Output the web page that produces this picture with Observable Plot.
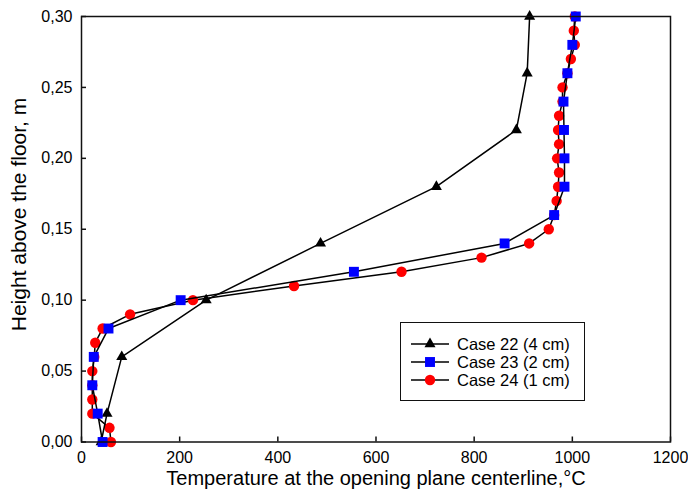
<!DOCTYPE html>
<html>
<head>
<meta charset="utf-8">
<script src="https://cdn.jsdelivr.net/npm/d3@7"></script>
<script src="https://cdn.jsdelivr.net/npm/@observablehq/plot@0.6"></script>
<style>
  html, body { margin: 0; padding: 0; background: #fff; }
  #wrap { position: relative; width: 688px; height: 498px; font-family: "Liberation Sans", Arial, sans-serif; }
  #legend { position: absolute; left: 400px; top: 322px; width: 183px; height: 77px; border: 1.5px solid #111; background: #fff; }
  .row { position: absolute; left: 0; height: 18px; display: flex; align-items: center; }
  .row svg { margin-left: 10px; }
  .row span { margin-left: 8px; font-size: 16.5px; color: #000; white-space: nowrap; }
</style>
</head>
<body>
<div id="wrap"></div>
<script>
// ---- data ----
const seriesNames = ["Case 22 (4 cm)", "Case 23 (2 cm)", "Case 24 (1 cm)"];
const seriesColors = ["#000000", "#0000ff", "#ff0000"];
const seriesSymbols = ["triangle", "square", "circle"];

const case22Height = [0.30, 0.26, 0.22, 0.18, 0.14, 0.10, 0.06, 0.02, 0.00];
const case22Temp   = [913, 908, 886, 723, 487, 254, 82, 52, 40];

const case23Height = [0.30, 0.28, 0.26, 0.24, 0.22, 0.20, 0.18, 0.16, 0.14, 0.12, 0.10, 0.08, 0.06, 0.04, 0.02, 0.00];
const case23Temp   = [1007, 1000, 990, 982, 983, 984, 984, 963, 862, 555, 202, 55, 25, 22, 33, 43];

const case24Height = [0.30, 0.29, 0.28, 0.27, 0.26, 0.25, 0.24, 0.23, 0.22, 0.21, 0.20, 0.19, 0.18, 0.17, 0.16, 0.15,
                      0.14, 0.13, 0.12, 0.11, 0.10, 0.09, 0.08, 0.07, 0.06, 0.05, 0.04, 0.03, 0.02, 0.01, 0.00];
const case24Temp   = [1005, 1003, 1005, 997, 990, 980, 980, 973, 971, 973, 969, 973, 971, 968, 963, 952,
                      912, 815, 652, 433, 227, 99, 43, 28, 26, 22, 22, 22, 22, 57, 60];

const xTicks = [0, 200, 400, 600, 800, 1000, 1200];
const yTicks = [0.00, 0.05, 0.10, 0.15, 0.20, 0.25, 0.30];
const xTitle = "Temperature at the opening plane centerline,°C";
const yTitle = "Height above the floor, m";

// ---- build ----
const mk = (h, t) => h.map((v, i) => ({h: v, t: t[i]}));
const d22 = mk(case22Height, case22Temp);
const d23 = mk(case23Height, case23Temp);
const d24 = mk(case24Height, case24Temp);
const fmtY = d => d3.format(".2f")(d).replace(".", ",");
const R = {triangle: 4.1, square: 5.6, circle: 5.2};

const chart = Plot.plot({
  width: 688, height: 498,
  marginLeft: 81, marginRight: 18, marginTop: 16, marginBottom: 56.5,
  style: {fontFamily: "'Liberation Sans', Arial, sans-serif", fontSize: "16px", color: "#000", background: "#fff", overflow: "visible"},
  x: {domain: [0, 1200]},
  y: {domain: [0, 0.30]},
  marks: [
    Plot.axisX(xTicks, {tickSize: -5, tickPadding: 14.6, tickFormat: d => String(d), label: null, stroke: "#111", strokeWidth: 1.5, fontSize: 16}),
    Plot.axisY(yTicks, {tickSize: -5, tickPadding: 14, tickFormat: fmtY, label: null, stroke: "#111", strokeWidth: 1.5, fontSize: 16}),
    Plot.line(d24, {x: "t", y: "h", stroke: "#000", strokeWidth: 1.5}),
    Plot.dot(d24, {x: "t", y: "h", symbol: "circle", r: R.circle, fill: seriesColors[2], stroke: "none"}),
    Plot.line(d22, {x: "t", y: "h", stroke: "#000", strokeWidth: 1.5}),
    Plot.dot(d22, {x: "t", y: "h", symbol: "triangle", r: R.triangle, fill: seriesColors[0], stroke: "none"}),
    Plot.line(d23, {x: "t", y: "h", stroke: "#000", strokeWidth: 1.5}),
    Plot.dot(d23, {x: "t", y: "h", symbol: "square", r: R.square, fill: seriesColors[1], stroke: "none"}),
    Plot.frame({stroke: "#111", strokeWidth: 1.5}),
    Plot.text([xTitle], {frameAnchor: "bottom", text: d => d, dy: 36.1, lineAnchor: "middle", textAnchor: "middle", fontSize: 20, fill: "#000"}),
    Plot.text([yTitle], {frameAnchor: "left", text: d => d, dx: -62.7, dy: -14.75, rotate: -90, lineAnchor: "middle", textAnchor: "middle", fontSize: 21, fill: "#000"})
  ]
});

const wrap = document.getElementById("wrap");
wrap.appendChild(chart);

// ---- legend ----
const legend = document.createElement("div");
legend.id = "legend";
const symPath = {
  triangle: d3.symbol(d3.symbolTriangle, Math.PI * R.triangle * R.triangle)(),
  square: d3.symbol(d3.symbolSquare, Math.PI * R.square * R.square)(),
  circle: d3.symbol(d3.symbolCircle, Math.PI * R.circle * R.circle)()
};
seriesNames.forEach((name, i) => {
  const row = document.createElement("div");
  row.className = "row";
  row.style.top = (12 + i * 18) + "px";
  row.innerHTML =
    `<svg width="38" height="18"><line x1="0" x2="38" y1="9" y2="9" stroke="#000" stroke-width="1.5"/>` +
    `<path transform="translate(19,9)" d="${symPath[seriesSymbols[i]]}" fill="${seriesColors[i]}"/></svg>` +
    `<span>${name}</span>`;
  legend.appendChild(row);
});
wrap.appendChild(legend);
</script>
</body>
</html>
